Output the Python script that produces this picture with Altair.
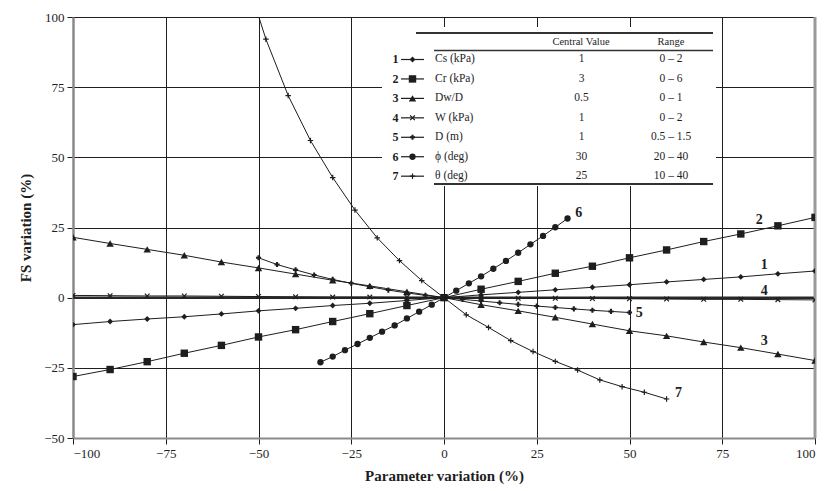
import altair as alt
import pandas as pd

# ---------------- data ----------------
ids = ["1", "2", "3", "4", "5", "6", "7"]
names = ["Cs (kPa)", "Cr (kPa)", "Dw/D", "W (kPa)", "D (m)", "\u03d5 (deg)", "\u03b8 (deg)"]
central = ["1", "3", "0.5", "1", "1", "30", "25"]
ranges = ["0 \u2013 2", "0 \u2013 6", "0 \u2013 1", "0 \u2013 2", "0.5 \u2013 1.5", "20 \u2013 40", "10 \u2013 40"]

x_step10 = [-100, -90, -80, -70, -60, -50, -40, -30, -20, -10, 0,
            10, 20, 30, 40, 50, 60, 70, 80, 90, 100]
y_cs = [-9.6, -8.5, -7.6, -6.8, -5.8, -4.7, -3.8, -2.8, -2.0, -1.0, 0,
        1.0, 1.9, 2.8, 3.7, 4.6, 5.6, 6.5, 7.4, 8.5, 9.5]
y_cr = [-28.1, -25.6, -22.8, -19.8, -17.0, -14.0, -11.4, -8.5, -5.7, -2.8, 0,
        3.0, 5.8, 8.7, 11.2, 14.2, 17.0, 20.0, 22.7, 25.6, 28.6]
y_dw = [21.5, 19.3, 17.2, 15.1, 12.7, 10.6, 8.4, 6.2, 4.2, 2.1, 0,
        -2.5, -4.7, -7.0, -9.4, -11.8, -13.6, -15.8, -17.8, -20.1, -22.4]
y_w = [0.8, 0.7, 0.6, 0.6, 0.5, 0.4, 0.3, 0.2, 0.2, 0.1, 0,
       -0.1, -0.2, -0.2, -0.3, -0.4, -0.5, -0.6, -0.6, -0.7, -0.8]
x_d = [-50, -45, -40, -35, -30, -25, -20, -15, -10, -5, 0,
       5, 10, 15, 20, 25, 30, 35, 40, 45, 50]
y_d = [14.2, 11.8, 9.9, 8.1, 6.5, 5.1, 3.9, 2.7, 1.7, 0.8, 0,
       -0.6, -1.2, -1.8, -2.4, -3.0, -3.5, -4.0, -4.5, -4.9, -5.3]
x_phi = [-33.3, -30.0, -26.7, -23.3, -20.0, -16.7, -13.3, -10.0, -6.7, -3.3, 0,
         3.3, 6.7, 10.0, 13.3, 16.7, 20.0, 23.3, 26.7, 30.0, 33.3]
y_phi = [-23.0, -21.0, -18.7, -16.5, -14.3, -12.1, -9.9, -7.4, -5.0, -2.5, 0,
         2.5, 5.1, 7.6, 10.3, 13.1, 16.0, 19.0, 22.0, 25.1, 28.2]
x_theta = [-60, -54, -48, -42, -36, -30, -24, -18, -12, -6, 0,
           6, 12, 18, 24, 30, 36, 42, 48, 54, 60]
y_theta = [150, 117, 92.1, 72.0, 56.0, 42.8, 31.2, 21.3, 13.2, 6.1, 0,
           -6.1, -10.6, -15.3, -19.2, -22.7, -25.8, -29.3, -31.7, -33.7, -36.1]

series_x = [x_step10, x_step10, x_step10, x_step10, x_d, x_phi, x_theta]
series_y = [y_cs, y_cr, y_dw, y_w, y_d, y_phi, y_theta]

x_ticks = [-100, -75, -50, -25, 0, 25, 50, 75, 100]
y_ticks = [-50, -25, 0, 25, 50, 75, 100]

# ---------------- styles ----------------
X_PATH = "M-1,-1L1,1M-1,1L1,-1"
PLUS_PATH = "M-1,0L1,0M0,-1L0,1"
marker_style = [
    dict(shape="diamond", filled=True, size=34),
    dict(shape="square", filled=True, size=55),
    dict(shape="triangle-up", filled=True, size=55),
    dict(shape=X_PATH, filled=False, size=22),
    dict(shape="cross", filled=True, size=26),
    dict(shape="circle", filled=True, size=40),
    dict(shape=PLUS_PATH, filled=False, size=30),
]
label_pos = [(86.3, 11.6), (85.0, 27.6), (86.3, -15.6), (86.3, 2.4),
             (52.6, -5.6), (36.3, 30.2), (63.2, -34.0)]
INK = "#1e1e1e"
SERIF = "Liberation Serif"


def dx(px):
    return (px - 445.0) / 3.71


def dy(py):
    return 100 - (py - 17.0) / 2.807


xs = alt.Scale(domain=[-100, 100], nice=False, zero=False)
ys = alt.Scale(domain=[-50, 100], nice=False, zero=False)

x_axis = alt.Axis(values=x_ticks, grid=True, gridColor=INK, gridWidth=1,
                  domainColor="#8a8a8a", domainWidth=2, tickColor=INK, tickSize=6,
                  labelFont=SERIF, labelFontSize=13, labelColor=INK, labelPadding=3,
                  title="Parameter variation (%)", titleFont=SERIF, titleFontSize=15,
                  titleFontWeight="bold", titleColor=INK, titlePadding=8)
y_axis = alt.Axis(values=y_ticks, grid=True, gridColor=INK, gridWidth=1,
                  domainColor="#8a8a8a", domainWidth=2.5, tickColor=INK, tickSize=6,
                  labelFont=SERIF, labelFontSize=13, labelColor=INK, labelPadding=3,
                  title="FS variation (%)", titleFont=SERIF, titleFontSize=15,
                  titleFontWeight="bold", titleColor=INK, titlePadding=10)

base = alt.Chart(pd.DataFrame({"a": [0]}))

# axes carrier (invisible)
axes_layer = base.mark_point(opacity=0).encode(
    x=alt.X("x:Q", scale=xs, axis=x_axis),
    y=alt.Y("y:Q", scale=ys, axis=y_axis),
).transform_calculate(x="0", y="0")

layers = [axes_layer]

# white table box
box_df = pd.DataFrame({"x": [dx(383)], "x2": [dx(717)], "y": [dy(27)], "y2": [dy(186)]})
layers.append(alt.Chart(box_df).mark_rect(fill="white").encode(
    x=alt.X("x:Q", scale=xs), x2="x2:Q", y=alt.Y("y:Q", scale=ys), y2="y2:Q"))

# frame rules: zero line and right edge
layers.append(alt.Chart(pd.DataFrame({"y": [0]})).mark_rule(color="#2a2a2a", strokeWidth=2.2).encode(
    y=alt.Y("y:Q", scale=ys)))
layers.append(alt.Chart(pd.DataFrame({"x": [100]})).mark_rule(color="#9a9a9a", strokeWidth=3).encode(
    x=alt.X("x:Q", scale=xs)))

# series
for i in range(7):
    df = pd.DataFrame({"x": series_x[i], "y": series_y[i]})
    st = marker_style[i]
    layers.append(alt.Chart(df).mark_line(color=INK, strokeWidth=1, clip=True).encode(
        x=alt.X("x:Q", scale=xs), y=alt.Y("y:Q", scale=ys)))
    pt_kwargs = dict(shape=st["shape"], size=st["size"], filled=st["filled"], clip=True, opacity=1)
    if st["filled"]:
        pt_kwargs.update(color=INK)
    else:
        pt_kwargs.update(color=INK, strokeWidth=1.2)
    layers.append(alt.Chart(df).mark_point(**pt_kwargs).encode(
        x=alt.X("x:Q", scale=xs), y=alt.Y("y:Q", scale=ys)))

# series number labels
lab_df = pd.DataFrame({"t": ids, "x": [p[0] for p in label_pos], "y": [p[1] for p in label_pos]})
layers.append(alt.Chart(lab_df).mark_text(font=SERIF, fontSize=14, fontWeight="bold",
                                          color=INK, align="center", baseline="middle").encode(
    x=alt.X("x:Q", scale=xs), y=alt.Y("y:Q", scale=ys), text="t:N"))

# table rules
rules_df = pd.DataFrame({
    "x": [dx(417), dx(435), dx(435)],
    "x2": [dx(714), dx(714), dx(714)],
    "y": [dy(33), dy(50.5), dy(184)],
    "w": [1.8, 1.4, 1.8],
})
layers.append(alt.Chart(rules_df).mark_rule(color="#333333").encode(
    x=alt.X("x:Q", scale=xs), x2="x2:Q", y=alt.Y("y:Q", scale=ys),
    strokeWidth=alt.StrokeWidth("w:Q", scale=None, legend=None)))

# header
hdr_df = pd.DataFrame({"t": ["Central Value", "Range"], "x": [dx(582), dx(672)], "y": [dy(42.5), dy(42.5)]})
layers.append(alt.Chart(hdr_df).mark_text(font=SERIF, fontSize=10.5, color=INK,
                                          align="center", baseline="middle").encode(
    x=alt.X("x:Q", scale=xs), y=alt.Y("y:Q", scale=ys), text="t:N"))

row_py = [59.5 + 19.45 * i for i in range(7)]
row_y = [dy(p) for p in row_py]

num_df = pd.DataFrame({"t": ids, "x": [dx(396.5)] * 7, "y": row_y})
layers.append(alt.Chart(num_df).mark_text(font=SERIF, fontSize=12, fontWeight="bold", color=INK,
                                          align="center", baseline="middle").encode(
    x=alt.X("x:Q", scale=xs), y=alt.Y("y:Q", scale=ys), text="t:N"))

name_df = pd.DataFrame({"t": names, "x": [dx(436)] * 7, "y": row_y})
layers.append(alt.Chart(name_df).mark_text(font=SERIF, fontSize=11.5, color=INK,
                                           align="left", baseline="middle").encode(
    x=alt.X("x:Q", scale=xs), y=alt.Y("y:Q", scale=ys), text="t:N"))

cen_df = pd.DataFrame({"t": central, "x": [dx(582.5)] * 7, "y": row_y})
layers.append(alt.Chart(cen_df).mark_text(font=SERIF, fontSize=11.5, color=INK,
                                          align="center", baseline="middle").encode(
    x=alt.X("x:Q", scale=xs), y=alt.Y("y:Q", scale=ys), text="t:N"))

rng_df = pd.DataFrame({"t": ranges, "x": [dx(672)] * 7, "y": row_y})
layers.append(alt.Chart(rng_df).mark_text(font=SERIF, fontSize=11.5, color=INK,
                                          align="center", baseline="middle").encode(
    x=alt.X("x:Q", scale=xs), y=alt.Y("y:Q", scale=ys), text="t:N"))

# legend symbols in table
sym_line_df = pd.DataFrame({"x": [dx(402)] * 7, "x2": [dx(425)] * 7, "y": row_y})
layers.append(alt.Chart(sym_line_df).mark_rule(color=INK, strokeWidth=1.2).encode(
    x=alt.X("x:Q", scale=xs), x2="x2:Q", y=alt.Y("y:Q", scale=ys)))
for i in range(7):
    st = marker_style[i]
    df = pd.DataFrame({"x": [dx(413.5)], "y": [row_y[i]]})
    kw = dict(shape=st["shape"], size=st["size"], filled=st["filled"], color=INK, opacity=1)
    if not st["filled"]:
        kw.update(strokeWidth=1.2)
    layers.append(alt.Chart(df).mark_point(**kw).encode(
        x=alt.X("x:Q", scale=xs), y=alt.Y("y:Q", scale=ys)))

chart = alt.layer(*layers).properties(
    width=742, height=421,
    autosize=alt.AutoSizeParams(type="none"),
    padding={"left": 65, "top": 9, "right": 6, "bottom": 52},
).configure_view(stroke=None).configure(background="white")

chart.save("out.html", embed_options={"renderer": "svg", "actions": False})
